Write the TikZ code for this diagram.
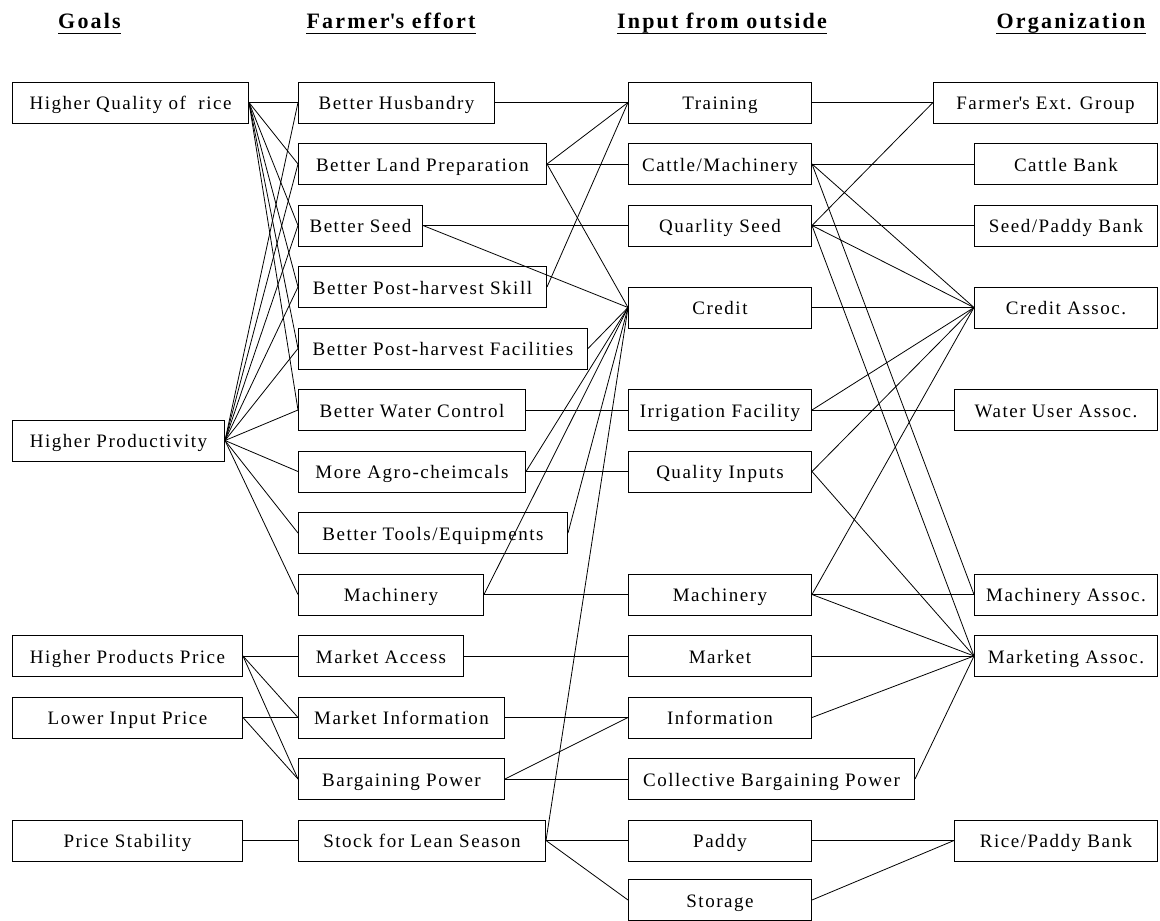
\documentclass[tikz,border=0pt]{standalone}
\usepackage{fontspec}
\setmainfont{Liberation Serif}
\newfontfamily\boxfont{Liberation Serif}[LetterSpace=8]
\newfontfamily\headfont{Liberation Serif}[LetterSpace=10]
\newcommand{\qs}{\textquotesingle}

\tikzset{
  box/.style={draw, line width=1pt, minimum height=41, inner sep=0pt,
    text height=14pt, text depth=0pt,
    font=\boxfont\fontsize{19}{22}\selectfont},
  goal/.style={box, anchor=west},
  effort/.style={box, anchor=west},
  input/.style={box, anchor=west, minimum width=183},
  org/.style={box, anchor=east},
  head/.style={anchor=base, inner sep=0pt,
    font=\headfont\bfseries\fontsize{22}{26}\selectfont},
  uline/.style={line width=1.4pt},
  link/.style={line width=0.8pt}
}

\begin{document}
\begin{tikzpicture}[x=1pt,y=-1pt]
\useasboundingbox (0,0) rectangle (1160,921);

% column heads
\node [head] (hgoal) at (89.5,28) {Goals};
\node [head] (heffort) at (391,28) {Farmer\qs s effort};
\node [head] (hinput) at (722,28) {Input from outside};
\node [head] (horg) at (1071,28) {Organization};
\foreach \h in {hgoal,heffort,hinput,horg}
  \draw [uline] ([yshift=-5.5pt]\h.base west) -- ([yshift=-5.5pt]\h.base east);

% goals
\node [goal, minimum width=236] (hq) at (12,102.5) {Higher Quality of~ rice};
\node [goal, minimum width=212] (hp) at (12,440.5) {Higher Productivity};
\node [goal, minimum width=230] (hpp) at (12,656) {Higher Products Price};
\node [goal, minimum width=230] (lip) at (12,717.5) {Lower Input Price};
\node [goal, minimum width=230] (ps) at (12,840.5) {Price Stability};

% farmer's effort
\node [effort, minimum width=196] (bh) at (298,102.5) {Better Husbandry};
\node [effort, minimum width=248] (blp) at (298,164) {Better Land Preparation};
\node [effort, minimum width=124] (bs) at (298,225.5) {Better Seed};
\node [effort, minimum width=248] (bps) at (298,287) {Better Post-harvest Skill};
\node [effort, minimum width=289] (bpf) at (298,348.5) {Better Post-harvest Facilities};
\node [effort, minimum width=227] (bwc) at (298,410) {Better Water Control};
\node [effort, minimum width=227] (mac) at (298,471.5) {More Agro-cheimcals};
\node [effort, minimum width=269] (bte) at (298,533) {Better Tools/Equipments};
\node [effort, minimum width=185] (mach) at (298,594.5) {Machinery};
\node [effort, minimum width=165] (mka) at (298,656) {Market Access};
\node [effort, minimum width=206] (mki) at (298,717.5) {Market Information};
\node [effort, minimum width=206] (bgp) at (298,779) {Bargaining Power};
\node [effort, minimum width=247] (stk) at (298,840.5) {Stock for Lean Season};

% input from outside
\node [input] (trn) at (628,102.5) {Training};
\node [input] (cat) at (628,164) {Cattle/Machinery};
\node [input] (qsd) at (628,225.5) {Quarlity Seed};
\node [input] (crd) at (628,307.5) {Credit};
\node [input] (irr) at (628,410) {Irrigation Facility};
\node [input] (qin) at (628,471.5) {Quality Inputs};
\node [input] (imach) at (628,594.5) {Machinery};
\node [input] (mkt) at (628,656) {Market};
\node [input] (inf) at (628,717.5) {Information};
\node [input, minimum width=286] (cbp) at (628,779) {Collective Bargaining Power};
\node [input] (pad) at (628,840.5) {Paddy};
\node [input] (sto) at (628,900) {Storage};

% organization
\node [org, minimum width=224] (feg) at (1158,102.5) {Farmer\qs s Ext. Group};
\node [org, minimum width=183] (cbk) at (1158,164) {Cattle Bank};
\node [org, minimum width=183] (spb) at (1158,225.5) {Seed/Paddy Bank};
\node [org, minimum width=183] (cra) at (1158,307.5) {Credit Assoc.};
\node [org, minimum width=203] (wua) at (1158,410) {Water User Assoc.};
\node [org, minimum width=183] (mas) at (1158,594.5) {Machinery Assoc.};
\node [org, minimum width=183] (mkas) at (1158,656) {Marketing Assoc.};
\node [org, minimum width=203] (rpb) at (1158,840.5) {Rice/Paddy Bank};

% goals -> effort
\foreach \a/\b in {hq/bh,hq/blp,hq/bs,hq/bps,hq/bpf,hq/bwc,
  hp/bh,hp/blp,hp/bs,hp/bps,hp/bpf,hp/bwc,hp/mac,hp/bte,hp/mach,
  hpp/mka,hpp/mki,hpp/bgp,lip/mki,lip/bgp,ps/stk}
  \draw [link] (\a.east) -- (\b.west);

% effort -> input
\foreach \a/\b in {bh/trn,blp/trn,blp/cat,blp/crd,bs/qsd,bs/crd,bps/trn,
  bpf/crd,bwc/irr,mac/crd,mac/qin,bte/crd,mach/crd,mach/imach,
  mka/mkt,mki/inf,bgp/inf,bgp/cbp,stk/crd,stk/pad,stk/sto}
  \draw [link] (\a.east) -- (\b.west);

% input -> organization
\foreach \a/\b in {trn/feg,cat/cbk,cat/cra,cat/mas,qsd/spb,qsd/feg,qsd/cra,
  qsd/mkas,crd/cra,irr/wua,irr/cra,qin/cra,qin/mkas,imach/cra,imach/mas,
  imach/mkas,mkt/mkas,inf/mkas,cbp/mkas,pad/rpb,sto/rpb}
  \draw [link] (\a.east) -- (\b.west);
\end{tikzpicture}
\end{document}
